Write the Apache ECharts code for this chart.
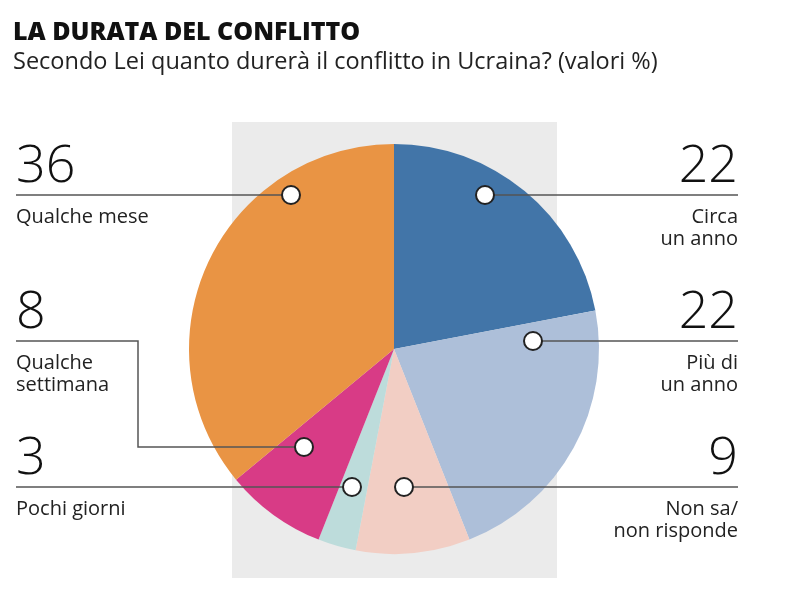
<!DOCTYPE html>
<html>
<head>
<meta charset="utf-8">
<script src="https://cdn.jsdelivr.net/npm/echarts@6/dist/echarts.min.js"></script>
<style>
html,body{margin:0;padding:0;background:#fff;}
#chart{width:800px;height:607px;}
</style>
</head>
<body>
<div id="chart"></div>
<script>
// ---- data ----
const categories = ['Circa un anno', 'Più di un anno', 'Non sa/ non risponde', 'Pochi giorni', 'Qualche settimana', 'Qualche mese'];
const labelLines = [['Circa', 'un anno'], ['Più di', 'un anno'], ['Non sa/', 'non risponde'], ['Pochi giorni'], ['Qualche', 'settimana'], ['Qualche mese']];
const values = [22, 22, 9, 3, 8, 36];
const colors = ['#4275A8', '#ADBFD9', '#F2CEC4', '#BDDCDB', '#D83B86', '#E99444'];

// ---- layout (callout geometry, pixels) ----
const callouts = [
  { side: 'right', lineY: 195, dot: [485, 195] },
  { side: 'right', lineY: 341, dot: [533, 341] },
  { side: 'right', lineY: 487, dot: [404, 487] },
  { side: 'left',  lineY: 487, dot: [352, 487] },
  { side: 'left',  lineY: 341, dot: [304, 447], bendX: 138 },
  { side: 'left',  lineY: 195, dot: [291, 195] }
];
const LEFT_X = 16, RIGHT_X = 738;
const FONT = '"Open Sans", Lato, sans-serif';

function leaderPoints(c) {
  const x = c.side === 'left' ? LEFT_X : RIGHT_X;
  if (c.bendX !== undefined) {
    return [[c.dot[0], c.dot[1]], [c.bendX, c.dot[1]], [c.bendX, c.lineY], [x, c.lineY]];
  }
  return [[c.dot[0], c.dot[1]], [x, c.lineY]];
}

const chart = echarts.init(document.getElementById('chart'));

const pieData = categories.map((c, i) => ({
  name: c,
  value: values[i],
  itemStyle: { color: colors[i] }
}));

const graphics = [
  { type: 'rect', z: -10, silent: true, shape: { x: 232, y: 122, width: 325, height: 456 }, style: { fill: '#EBEBEB' } }
];
callouts.forEach(c => {
  graphics.push({
    type: 'polyline', z: 90, silent: true,
    shape: { points: leaderPoints(c) },
    style: { stroke: '#555', lineWidth: 1.5, fill: null }
  });
  graphics.push({
    type: 'circle', z: 100, silent: true,
    shape: { cx: c.dot[0], cy: c.dot[1], r: 9 },
    style: { fill: '#fff', stroke: '#222', lineWidth: 2 }
  });
});

const option = {
  animation: false,
  title: {
    text: 'LA DURATA DEL CONFLITTO',
    subtext: 'Secondo Lei quanto durerà il conflitto in Ucraina? (valori %)',
    left: 8,
    top: 15,
    itemGap: 5,
    textStyle: { fontFamily: FONT, fontWeight: 800, fontSize: 25, color: '#111' },
    subtextStyle: { fontFamily: FONT, fontWeight: 400, fontSize: 23.5, color: '#222' }
  },
  graphic: graphics,
  series: [{
    type: 'pie',
    center: [394, 349],
    radius: 205,
    startAngle: 90,
    clockwise: true,
    data: pieData,
    itemStyle: { borderWidth: 0 },
    emphasis: { disabled: true },
    label: {
      show: true,
      formatter: p => '{n|' + p.value + '}\n' + labelLines[p.dataIndex].map(s => '{t|' + s + '}').join('\n'),
      rich: {
        n: { fontFamily: FONT, fontWeight: 300, fontSize: 52, lineHeight: 78, color: '#111' },
        t: { fontFamily: FONT, fontWeight: 400, fontSize: 20, lineHeight: 22, color: '#222' }
      }
    },
    labelLine: { show: false },
    labelLayout: function (params) {
      const c = callouts[params.dataIndex];
      const x = c.side === 'left' ? LEFT_X : RIGHT_X;
      return {
        x: x,
        y: c.lineY - 67,
        align: c.side === 'left' ? 'left' : 'right',
        verticalAlign: 'top'
      };
    }
  }]
};
chart.setOption(option);
</script>
</body>
</html>
